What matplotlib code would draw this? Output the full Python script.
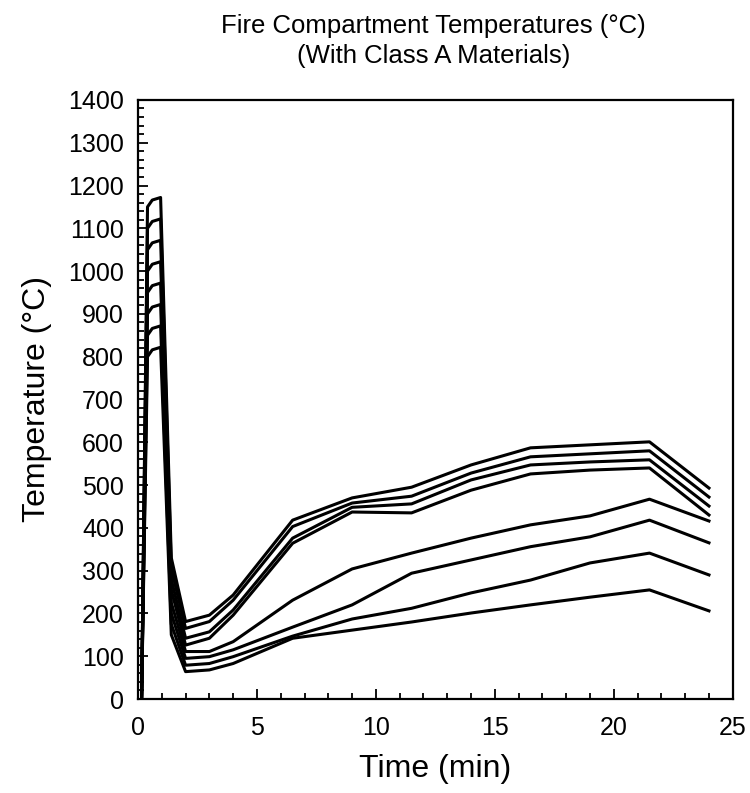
import matplotlib
matplotlib.use("Agg")
import matplotlib.pyplot as plt
from matplotlib.ticker import MultipleLocator

plt.rcParams['font.family'] = ['Liberation Sans', 'DejaVu Sans']

# tempo (min) comum a todas as curvas
tempo = [0.15, 0.4, 0.6, 0.95, 1.4, 2, 3, 4, 6.5, 9, 11.5, 14, 16.5, 19, 21.5, 24]

# temperaturas (°C) de cada curva, de cima para baixo
curva1 = [0, 1150, 1166, 1172, 330, 181, 196, 243, 418, 470, 495, 547, 587, 594, 601, 493]
curva2 = [0, 1100, 1116, 1122, 305, 165, 181, 231, 403, 458, 474, 528, 566, 573, 580, 472]
curva3 = [0, 1050, 1066, 1072, 280, 142, 157, 208, 376, 448, 456, 512, 547, 554, 559, 451]
curva4 = [0, 1000, 1016, 1022, 255, 126, 142, 196, 364, 437, 435, 488, 526, 535, 540, 430]
curva5 = [0, 950, 966, 972, 225, 111, 111, 134, 231, 304, 341, 376, 407, 428, 467, 416]
curva6 = [0, 900, 916, 922, 200, 95, 99, 115, 168, 220, 294, 325, 356, 379, 418, 365]
curva7 = [0, 850, 866, 872, 175, 79, 83, 99, 147, 187, 212, 248, 278, 318, 341, 290]
curva8 = [0, 800, 816, 822, 150, 64, 68, 83, 142, 161, 180, 201, 220, 238, 255, 206]

curvas = [curva1, curva2, curva3, curva4, curva5, curva6, curva7, curva8]

fig = plt.figure(figsize=(7.5, 7.93), dpi=100)
ax = fig.add_axes([0.184, 0.1185, 0.793, 0.7555])

for c in curvas:
    ax.plot(tempo, c, color='black', lw=2.2, solid_joinstyle='round')

ax.set_xlim(0, 25)
ax.set_ylim(0, 1400)
ax.xaxis.set_major_locator(MultipleLocator(5))
ax.xaxis.set_minor_locator(MultipleLocator(1))
ax.yaxis.set_major_locator(MultipleLocator(100))
ax.yaxis.set_minor_locator(MultipleLocator(20))
ax.tick_params(which='both', direction='in', top=False, right=False, width=1.3)
ax.tick_params(which='major', length=7, labelsize=18)
ax.tick_params(axis='y', which='major', pad=10)
ax.tick_params(axis='x', which='major', pad=12)
ax.tick_params(which='minor', length=4)
for s in ax.spines.values():
    s.set_linewidth(1.6)

ax.set_xlabel('Time (min)', fontsize=23, labelpad=10)
ax.set_ylabel('Temperature (°C)', fontsize=23, labelpad=12)
fig.text(0.578, 0.948, 'Fire Compartment Temperatures (°C)\n(With Class A Materials)',
         ha='center', va='center', fontsize=18.5, linespacing=1.3)

fig.savefig('out.png', dpi=100)
